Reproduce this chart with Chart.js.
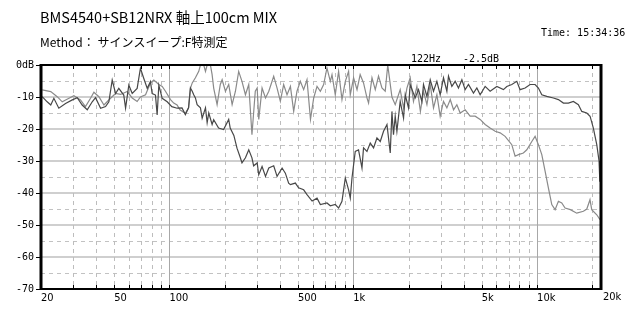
<!DOCTYPE html>
<html>
<head>
<meta charset="utf-8">
<script src="https://cdn.jsdelivr.net/npm/chart.js@4"></script>
<style>
  html, body { margin: 0; padding: 0; background: #fff; }
  canvas { display: block; }
</style>
</head>
<body>
<canvas id="fr" width="639" height="332"></canvas>
<script>
// dark trace
const FREQ_DARK = [20.3,21.6,22.6,23.5,25.0,27.2,29.6,31.5,33.5,35.7,38.0,39.6,42.2,44.9,46.8,48.8,50.9,53.0,56.4,57.7,
  60.1,62.7,66.7,69.5,72.5,75.7,78.8,80.5,83.9,85.7,87.5,91.3,97.2,103,110,117,122,127,130,133,
  135.5,138.4,141.4,147.4,150.6,157,160.3,163.6,170.6,174,185,197,210,214,224,233,243,248,259,270,
  281,287,300,306,319,333,347,369,385,410,427,445,455,484,504,537,560,597,635,662,
  719,750,798,832,868,905,943,963,984,1025,1068,1115,1137,1187,1237,1289,1345,1402,1461,1525,
  1589,1623,1655,1691,1727,1800,1877,1917,1998,2040,2172,2264,2362,2410,2516,2622,2732,2850,2970,3096,
  3230,3296,3438,3584,3735,3898,4062,4234,4507,4702,4900,5217,5552,6040,6560,6844,7285,7756,8084,8606,
  9162,9754,10166,10608,11293,12266,13060,13905,14804,15758,16776,17506,18640,19420,20236,21120,21730,21950];
const DB_DARK = [-9.9,-11.5,-12.5,-10.4,-13.5,-12.0,-10.9,-10.2,-12.5,-14,-11.5,-10.2,-13.5,-13,-11.5,-4.7,-8.9,-7.3,-9.4,-13.5,
  -6.3,-8.9,-7.3,-1,-4.2,-7.3,-5.2,-8.9,-9.4,-15.6,-6.3,-10.4,-11.5,-13,-13.5,-13.4,-15.5,-13.4,-7.2,-8.2,
  -9.3,-10.3,-12.4,-13.4,-16.6,-13.4,-18,-15,-18.6,-17.1,-19.7,-20.2,-17,-19.7,-22,-26,-29,-30.6,-29,-26.5,
  -29,-31.5,-30.6,-34.3,-31.7,-34.8,-32.2,-31.5,-34.8,-32.2,-33.8,-36.9,-37.4,-36.9,-38.4,-39,-40.5,-42.5,-41.6,-43.6,
  -43.1,-44,-43.6,-44.7,-42.6,-35.3,-39,-41.6,-35.3,-27,-26.5,-32.2,-25.9,-27,-24.4,-25.9,-22.8,-23.9,-20.7,-18.6,
  -27.5,-14.5,-21.8,-16,-20.7,-11.4,-16.6,-9.3,-13.4,-6.2,-10.3,-7.7,-11.4,-6.1,-9.8,-4.6,-8.2,-5.1,-9.3,-4,
  -8.2,-3.5,-6.7,-5.1,-7.2,-4.6,-7.7,-6.1,-8.8,-7.2,-9.3,-6.7,-8.2,-6.7,-7.7,-6.7,-6.1,-5.1,-7.7,-7.2,
  -6.1,-6.1,-7.2,-9.3,-9.8,-10.3,-10.8,-11.9,-11.9,-11.4,-12.4,-14.5,-15,-16,-19.7,-24.9,-30,-36.5];

// light trace
const FREQ_LIGHT = [20.3,22.6,24.5,26.1,28.4,30.2,32.8,34.9,37.2,38.8,41.3,44.0,47.8,50.9,54.2,58.9,62.7,66.7,69.5,74.1,
  78.8,82.2,87.5,91.3,95.1,101.3,105.5,110,114,122,127,130,133,138.4,144.3,147.4,153.6,157,160.3,167,
  170.6,174,181.6,189,193.4,201.6,210,219.2,228.5,238,248,259,270,281,293,300,306,319,333,347,
  369,385,401,418,436,455,474,494,515,537,560,585,609,635,662,690,719,750,766,798,
  832,868,905,943,963,1004,1048,1090,1137,1187,1211,1264,1317,1372,1432,1492,1540,1623,1691,1800,
  1877,1958,2040,2126,2219,2318,2410,2516,2622,2732,2850,2970,3096,3230,3370,3512,3660,3816,4062,4322,
  4602,4900,5217,5552,5912,6293,6700,7285,7592,7914,8424,8790,9360,9754,10166,10608,11054,11520,12020,12530,
  13060,13620,14200,15170,16440,17860,18640,19400,19830,21120,22000];
const DB_LIGHT = [-7.8,-8.3,-9.9,-11.5,-10.4,-9.6,-10.9,-13,-10.4,-8.5,-9.9,-12.5,-10.4,-8.9,-9.2,-8.3,-10.3,-11.4,-10,-9.3,
  -5.6,-4.7,-6.1,-6.7,-8.2,-10.8,-11.9,-12.5,-14,-15.1,-13.4,-7.3,-5.6,-4,-2,0,0,-2,0,0,
  -3,-7.2,-12.4,-6.1,-4.6,-8.2,-6.1,-12.4,-8.2,-2,-5.1,-9.3,-6.1,-21.8,-8.2,-7.2,-17,-7.2,-10.3,-8.2,
  -3.5,-7.2,-11.3,-6.1,-9.3,-6.7,-14.5,-8.2,-5.1,-7.7,-4.6,-17,-10.3,-6.7,-8.2,-6.1,-0.9,-5.1,-3,-9.3,
  -2,-10.8,-5.1,-2,-9.3,-4,-7.7,-3,-5.6,-10.3,-11.9,-4,-7.7,-3.5,-7.2,-8.2,0,-10,-12.4,-7.7,
  -13.4,-7.2,-4,-11.4,-6.7,-14.5,-8.2,-12.4,-6.1,-13.4,-9.3,-16,-11.4,-13.4,-10.8,-14,-12.4,-15,-14,-16,
  -16,-17,-18.6,-19.7,-20.7,-21.2,-22.3,-24.9,-28.5,-28,-27.5,-26.5,-23.9,-22.3,-24.9,-28,-33.2,-38.4,-43.6,-45.2,
  -42.6,-43.1,-44.7,-45.2,-46.3,-45.7,-45,-42.1,-45.2,-46.8,-48.3];

const X_LABELS = [20, 50, 100, 500, 1000, 5000, 10000];
const X_LAST_LABEL = 20000;
const GRID_FREQS = [30,40,50,60,70,80,90,100,200,300,400,500,600,700,800,900,1000,
  2000,3000,4000,5000,6000,7000,8000,9000,10000,20000];
const SOLID_FREQS = [100, 1000, 10000];

const TITLE = 'BMS4540+SB12NRX 軸上100cm MIX';
const METHOD = 'Method： サインスイープ:F特測定';
const TIME = 'Time: 15:34:36';
const CURSOR_F = '122Hz';
const CURSOR_DB = '-2.5dB';

function fmtHz(v){ return v >= 1000 ? (v / 1000) + 'k' : String(v); }

const MONO = "'DejaVu Sans Mono', monospace";
const NARROW = "'Liberation Sans Narrow', 'DejaVu Sans Condensed', sans-serif";
const JP = "'Noto Sans CJK JP', sans-serif";

const frame = {
  id: 'frame',
  beforeDatasetsDraw(chart){
    const {ctx, chartArea: a, scales: {x, y}} = chart;
    ctx.save();
    // horizontal grid
    for (let v = -5; v > -70; v -= 5){
      const py = Math.round(y.getPixelForValue(v));
      ctx.beginPath();
      if (v % 10 === 0){
        ctx.strokeStyle = '#cfcfcf'; ctx.lineWidth = 2; ctx.setLineDash([]);
        ctx.moveTo(a.left, py); ctx.lineTo(a.right, py);
      } else {
        ctx.strokeStyle = '#c2c2c2'; ctx.lineWidth = 1; ctx.setLineDash([4, 4]);
        ctx.moveTo(a.left, py + 0.5); ctx.lineTo(a.right, py + 0.5);
      }
      ctx.stroke();
    }
    // vertical grid
    GRID_FREQS.forEach(f => {
      const px = Math.round(x.getPixelForValue(f)) + 0.5;
      ctx.beginPath();
      if (SOLID_FREQS.includes(f)){
        ctx.strokeStyle = '#a8a8a8'; ctx.setLineDash([]);
      } else {
        ctx.strokeStyle = '#bdbdbd'; ctx.setLineDash([4, 4]);
      }
      ctx.lineWidth = 1;
      ctx.moveTo(px, a.top); ctx.lineTo(px, a.bottom);
      ctx.stroke();
    });
    ctx.restore();
  },
  afterDatasetsDraw(chart){
    const {ctx, chartArea: a, scales: {x}} = chart;
    ctx.save();
    ctx.strokeStyle = '#000';
    ctx.setLineDash([]);
    // small ticks inside top/bottom border
    ctx.lineWidth = 1;
    GRID_FREQS.concat([20]).forEach(f => {
      const px = Math.round(x.getPixelForValue(f)) + 0.5;
      ctx.beginPath();
      ctx.moveTo(px, a.top); ctx.lineTo(px, a.top + 4);
      ctx.moveTo(px, a.bottom); ctx.lineTo(px, a.bottom - 4);
      ctx.stroke();
    });
    ctx.lineWidth = 2;
    ctx.beginPath();
    ctx.moveTo(a.left - 1, a.top); ctx.lineTo(a.right + 1, a.top);
    ctx.moveTo(a.left - 1, a.bottom); ctx.lineTo(a.right + 1, a.bottom);
    ctx.stroke();
    ctx.lineWidth = 3;
    ctx.beginPath();
    ctx.moveTo(a.left, a.top - 1); ctx.lineTo(a.left, a.bottom + 1);
    ctx.moveTo(a.right, a.top - 1); ctx.lineTo(a.right, a.bottom + 1);
    ctx.stroke();
    ctx.restore();
  },
  afterDraw(chart){
    const {ctx, chartArea: a} = chart;
    ctx.save();
    ctx.fillStyle = '#000';
    ctx.textBaseline = 'alphabetic';
    ctx.textAlign = 'left';
    ctx.font = '14.5px ' + JP;
    ctx.fillText(TITLE, 40, 23);
    ctx.font = '12px ' + JP;
    ctx.fillText(METHOD, 40, 47);
    ctx.font = '10px ' + MONO;
    ctx.fillText(TIME, 541, 36);
    ctx.fillText(CURSOR_F, 411, 62);
    ctx.fillText(CURSOR_DB, 463, 62);
    // last frequency label sits just past the frame
    ctx.font = '11px ' + NARROW;
    ctx.textBaseline = 'top';
    ctx.fillText(fmtHz(X_LAST_LABEL), a.right + 2, a.bottom + 3);
    ctx.restore();
  }
};

new Chart(document.getElementById('fr'), {
  type: 'line',
  data: {
    datasets: [
      {
        label: 'dark',
        data: FREQ_DARK.map((f, i) => ({x: f, y: DB_DARK[i]})),
        borderColor: '#484848',
        borderWidth: 1.2,
        pointRadius: 0,
        tension: 0
      },
      {
        label: 'light',
        data: FREQ_LIGHT.map((f, i) => ({x: f, y: DB_LIGHT[i]})),
        borderColor: '#8a8a8a',
        borderWidth: 1.2,
        pointRadius: 0,
        tension: 0
      }
    ]
  },
  options: {
    responsive: false,
    animation: false,
    layout: { padding: { top: 65, right: 38, left: 0, bottom: 0 } },
    plugins: { legend: { display: false }, tooltip: { enabled: false } },
    scales: {
      x: {
        type: 'logarithmic',
        min: 20,
        max: 22270,
        afterBuildTicks: s => { s.ticks = X_LABELS.map(v => ({value: v})); },
        afterFit: s => { s.height = 43; },
        grid: { display: false, drawTicks: false },
        border: { display: false },
        ticks: {
          align: 'start',
          autoSkip: false,
          maxRotation: 0,
          padding: 3,
          color: '#000',
          font: { family: NARROW, size: 11 },
          callback: v => fmtHz(v)
        }
      },
      y: {
        min: -70,
        max: 0,
        afterFit: s => { s.width = 41; },
        grid: { drawOnChartArea: false, drawTicks: true, tickLength: 5, tickColor: '#000', tickWidth: 1 },
        border: { display: false },
        ticks: {
          stepSize: 10,
          padding: 2,
          color: '#000',
          font: { family: MONO, size: 10 },
          callback: v => v === 0 ? '0dB' : String(v)
        }
      }
    }
  },
  plugins: [frame]
});
</script>
</body>
</html>
